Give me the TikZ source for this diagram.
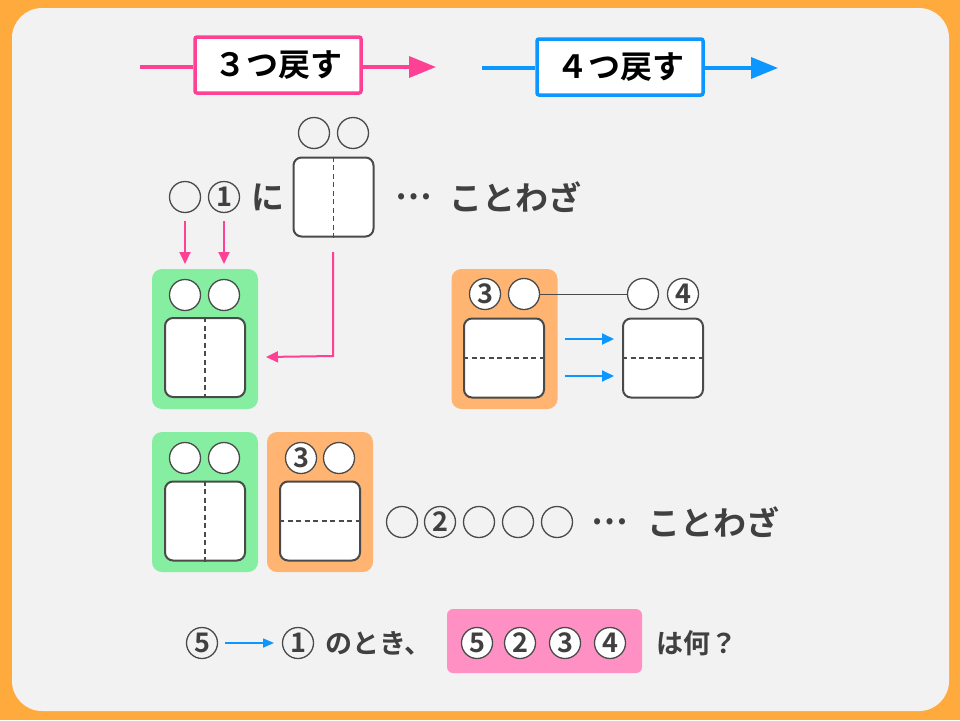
\documentclass[tikz,border=0pt]{standalone}
\usepackage{fontspec}
\newfontfamily\jp{Noto Sans CJK JP}[BoldFont={Noto Sans CJK JP Bold}]
\usetikzlibrary{arrows.meta}
\definecolor{frame}{HTML}{FFAA3D}
\definecolor{panel}{HTML}{F2F2F2}
\definecolor{pinkc}{HTML}{FF4196}
\definecolor{bluec}{HTML}{0C96FF}
\definecolor{greenc}{HTML}{86EEA0}
\definecolor{orangec}{HTML}{FFB472}
\definecolor{pinkbox}{HTML}{FF90C4}
\definecolor{lg}{HTML}{4A4A4A}
\definecolor{tg}{HTML}{404040}
\tikzset{
  circ/.style={circle, draw=lg, fill=white, line width=1.3pt, minimum size=31pt, inner sep=0pt,
    font=\jp\bfseries\fontsize{27}{27}\selectfont, text=tg},
  tcirc/.style={circ, fill=none},
  card/.style={draw=lg, fill=white, rounded corners=8pt, line width=2pt, minimum width=80pt, minimum height=79pt, inner sep=0pt},
  dline/.style={draw=lg, line width=1.3pt, dash pattern=on 5pt off 3.5pt},
  bgbox/.style={rounded corners=10pt, minimum width=106pt, minimum height=140pt, inner sep=0pt},
  word/.style={font=\jp\bfseries\fontsize{33}{33}\selectfont, text=tg, inner sep=0pt},
  sword/.style={font=\jp\bfseries\fontsize{27}{27}\selectfont, text=tg, inner sep=0pt},
  banner/.style={fill=white, line width=3.5pt, rounded corners=2pt, minimum width=166pt, minimum height=56pt,
    font=\jp\bfseries\fontsize{32}{32}\selectfont, text=black, inner sep=0pt},
  parrow/.style={draw=pinkc, line width=2pt, -{Triangle[width=11pt,length=12pt]}},
  barrow/.style={draw=bluec, line width=2pt, -{Triangle[width=11pt,length=12pt]}},
}
\begin{document}
\begin{tikzpicture}[x=1pt,y=-1pt]
\useasboundingbox (0,0) rectangle (960,720);
\fill[frame] (0,0) rectangle (960,720);
\fill[panel, rounded corners=30pt] (12,8) rectangle (949,711);

% banners
\node[banner, draw=pinkc] (b3) at (278,65) {３つ戻す};
\coordinate (b3l) at (140,67);
\coordinate (b3r) at (436,67);
\draw[pinkc, line width=3.5pt] (b3l) -- (b3.west |- b3l);
\draw[pinkc, line width=3.5pt, -{Triangle[width=21pt,length=27pt]}] (b3.east |- b3r) -- (b3r);
\node[banner, draw=bluec] (b4) at (620,67) {４つ戻す};
\coordinate (b4l) at (482,68);
\coordinate (b4r) at (778,68);
\draw[bluec, line width=3.5pt] (b4l) -- (b4.west |- b4l);
\draw[bluec, line width=3.5pt, -{Triangle[width=21pt,length=27pt]}] (b4.east |- b4r) -- (b4r);

% top line
\node[tcirc] (t1) at (185,197) {};
\node[tcirc] (t2) at (224,197) {1};
\node[word] (ni) at (268,197) {に};
\node[card] (c0) at (333.5,197) {};
\draw[dline] (c0.north) -- (c0.south);
\node[tcirc] (u1) at (314,133) {};
\node[tcirc] (u2) at (353,133) {};
\node[word] (dots1) at (414,197) {…};
\node[word] (kw1) at (515.5,197) {ことわざ};

% pink arrows
\coordinate (a1s) at (185,221); \coordinate (a1e) at (185,264);
\coordinate (a2s) at (224,221); \coordinate (a2e) at (224,264);
\draw[parrow] (a1s) -- (a1e);
\draw[parrow] (a2s) -- (a2e);
\coordinate (e1) at (333,252); \coordinate (e2) at (333,356); \coordinate (e3) at (266,357);
\draw[parrow] (e1) -- (e2) -- (e3);

% green box 1
\node[bgbox, fill=greenc] (g1) at (205,339) {};
\node[circ] (g1a) at (185,295) {};
\node[circ] (g1b) at (224,295) {};
\node[card] (g1c) at (205,357.5) {};
\draw[dline] (g1c.north) -- (g1c.south);

% orange box 1
\node[bgbox, fill=orangec] (o1) at (504.5,339) {};
\node[circ] (o1a) at (485,294) {3};
\node[circ] (o1b) at (524,294) {};
\node[card] (o1c) at (504,358) {};
\draw[dline] (o1c.west) -- (o1c.east);
\node[circ] (r1a) at (643,294) {};
\node[circ] (r1b) at (683,294) {4};
\node[card] (r1c) at (663,358) {};
\draw[dline] (r1c.west) -- (r1c.east);
\draw[lg, line width=1pt] (o1b) -- (r1a);
\coordinate (ba1) at (565,339); \coordinate (bb1) at (614,339);
\coordinate (ba2) at (565,376); \coordinate (bb2) at (614,376);
\draw[barrow] (ba1) -- (bb1);
\draw[barrow] (ba2) -- (bb2);

% bottom boxes
\node[bgbox, fill=greenc] (g2) at (205,502) {};
\node[circ] (g2a) at (185,458) {};
\node[circ] (g2b) at (224,458) {};
\node[card] (g2c) at (205,521) {};
\draw[dline] (g2c.north) -- (g2c.south);
\node[bgbox, fill=orangec] (o2) at (320,502) {};
\node[circ] (o2a) at (301,458) {3};
\node[circ] (o2b) at (339,458) {};
\node[card] (o2c) at (320,521) {};
\draw[dline] (o2c.west) -- (o2c.east);

% bottom row
\node[tcirc] (k1) at (402,522) {};
\node[tcirc] (k2) at (440,522) {2};
\node[tcirc] (k3) at (479,522) {};
\node[tcirc] (k4) at (518,522) {};
\node[tcirc] (k5) at (557,522) {};
\node[word] (dots2) at (610,522) {…};
\node[word] (kw2) at (713.5,522) {ことわざ};

% last line
\node[tcirc] (q5) at (202,643) {5};
\node[tcirc] (q1) at (298,643) {1};
\coordinate (qa) at (225,643); \coordinate (qb) at (274,643);
\draw[barrow, line width=1.5pt, -{Triangle[width=9pt,length=11pt]}] (qa) -- (qb);
\node[sword, anchor=west] (nt) at (325,643) {のとき、};
\node[fill=pinkbox, rounded corners=6pt, minimum width=195pt, minimum height=64pt, inner sep=0pt] (pb) at (544.5,641) {};
\node[circ] (p5) at (477,643) {5};
\node[circ] (p2) at (520,643) {2};
\node[circ] (p3) at (565,643) {3};
\node[circ] (p4) at (610,643) {4};
\node[sword, anchor=west] (ha) at (656,643) {は何？};
\end{tikzpicture}
\end{document}
